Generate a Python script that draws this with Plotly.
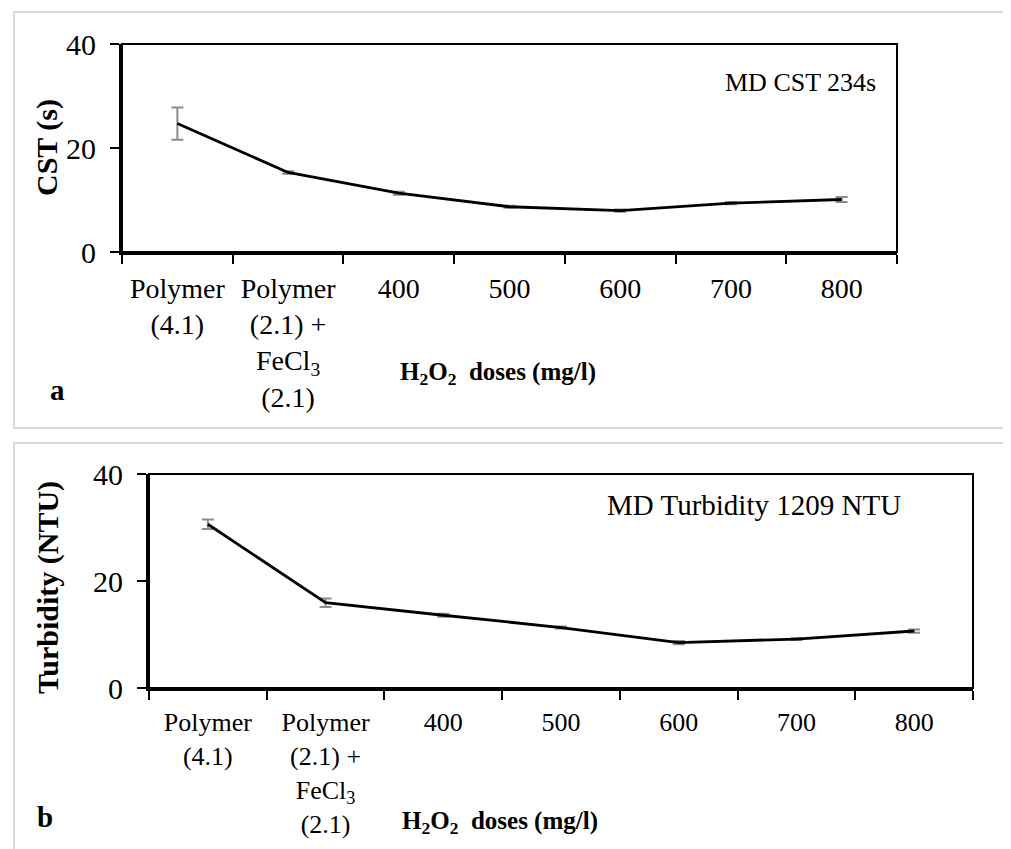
import plotly.graph_objects as go

categories = ["Polymer<br>(4.1)", "Polymer<br>(2.1) +<br>FeCl<sub>3</sub><br>(2.1)",
              "400", "500", "600", "700", "800"]
cst_values = [24.7, 15.3, 11.3, 8.7, 7.95, 9.4, 10.1]
cst_errors = [3.1, 0.25, 0.3, 0.2, 0.2, 0.2, 0.5]
turb_values = [30.6, 15.95, 13.6, 11.3, 8.5, 9.15, 10.65]
turb_errors = [0.9, 0.8, 0.3, 0.2, 0.3, 0.2, 0.3]
y_ticks = [0, 20, 40]

W, H = 1011, 849
OFF = 8  # default page body margin
FONT = "Liberation Serif"

def px_x(v):
    return (v - OFF) / W

def px_y(v):
    return 1 - (v - OFF) / H

fig = go.Figure()
fig.add_trace(go.Scatter(
    x=categories, y=cst_values, mode="lines",
    line=dict(color="black", width=2.8),
    error_y=dict(type="data", array=cst_errors, color="#8c8c8c", thickness=2, width=6),
    xaxis="x", yaxis="y", showlegend=False))
fig.add_trace(go.Scatter(
    x=categories, y=turb_values, mode="lines",
    line=dict(color="black", width=2.8),
    error_y=dict(type="data", array=turb_errors, color="#8c8c8c", thickness=2, width=6),
    xaxis="x2", yaxis="y2", showlegend=False))

def xaxis(domain, anchor, size):
    return dict(domain=domain, anchor=anchor, type="category",
                categoryorder="array", categoryarray=categories,
                range=[-0.5, len(categories) - 0.5],
                showline=True, linecolor="black", linewidth=3,
                ticks="outside", tickson="boundaries", ticklen=9, tickwidth=2,
                tickcolor="black", showgrid=False, zeroline=False,
                tickfont=dict(family=FONT, size=size, color="black"),
                ticklabelstandoff=9, tickangle=0, automargin=False)

def yaxis(domain, anchor):
    return dict(domain=domain, anchor=anchor, range=[0, 40], tickvals=y_ticks,
                showline=True, linecolor="black", linewidth=3,
                ticks="outside", ticklen=9, tickwidth=2, tickcolor="black",
                showgrid=False, zeroline=False,
                tickfont=dict(family=FONT, size=30, color="black"),
                ticklabelstandoff=8, automargin=False)

fig.update_layout(
    width=W, height=H, margin=dict(l=0, r=0, t=0, b=0, pad=0),
    paper_bgcolor="white", plot_bgcolor="white",
    xaxis=xaxis([px_x(122), px_x(897)], "y", 28),
    yaxis=yaxis([px_y(252), px_y(44)], "x"),
    xaxis2=xaxis([px_x(149), px_x(973)], "y2", 26),
    yaxis2=yaxis([px_y(688), px_y(474)], "x2"),
)

shapes = []
# panel borders
shapes.append(dict(type="rect", xref="paper", yref="paper",
                   x0=px_x(14), x1=1.02, y0=px_y(428), y1=px_y(12),
                   line=dict(color="#d9d9d9", width=2)))
shapes.append(dict(type="rect", xref="paper", yref="paper",
                   x0=px_x(14), x1=1.02, y0=-0.05, y1=px_y(443),
                   line=dict(color="#d9d9d9", width=2)))
# plot frames (top/right thinner)
for xa, ya in [("x", "y"), ("x2", "y2")]:
    shapes.append(dict(type="rect", xref=f"{xa} domain", yref=f"{ya} domain",
                       x0=0, x1=1, y0=0, y1=1, line=dict(color="black", width=2)))
fig.update_layout(shapes=shapes)

ann = []
def add_text(text, x, y, size, xanchor="center", angle=0):
    ann.append(dict(text=text, x=px_x(x), y=px_y(y), xref="paper", yref="paper",
                    showarrow=False, xanchor=xanchor, yanchor="middle",
                    textangle=angle, font=dict(family=FONT, size=size, color="black")))

add_text("<b>CST (s)</b>", 47, 148, 30, angle=-90)
add_text("<b>Turbidity (NTU)</b>", 48, 588, 30, angle=-90)
add_text("MD CST 234s", 878, 83, 26, xanchor="right")
add_text("MD Turbidity 1209 NTU", 903, 505, 29, xanchor="right")
add_text("<b>H<sub>2</sub>O<sub>2</sub>\u00a0 doses (mg/l)</b>", 498, 374, 25)
add_text("<b>H<sub>2</sub>O<sub>2</sub>\u00a0 doses (mg/l)</b>", 500, 822, 25)
add_text("<b>a</b>", 57, 390, 29)
add_text("<b>b</b>", 45, 817, 29)
fig.update_layout(annotations=ann)

fig.write_html("out.html")
